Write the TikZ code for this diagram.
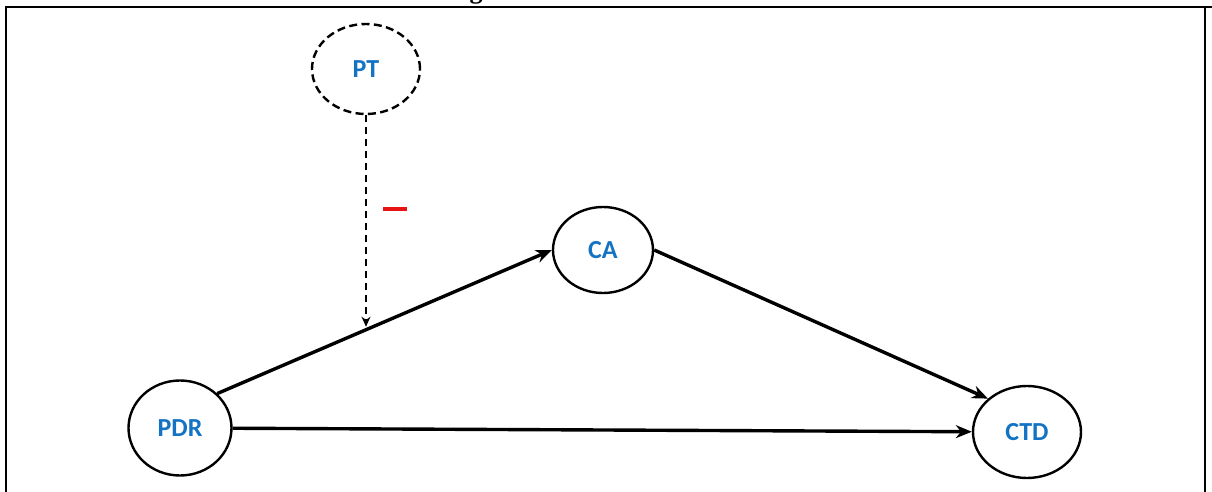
\documentclass[tikz,border=0pt]{standalone}
\usepackage{fontspec}
\setmainfont{Carlito}
\newfontfamily\serifbold{Liberation Serif}
\usetikzlibrary{shapes.geometric,arrows.meta,calc}
\definecolor{lblblue}{RGB}{20,115,195}
\definecolor{minusred}{RGB}{230,20,20}
\tikzset{
  var/.style={ellipse, draw=black, line width=1.2pt, fill=white, inner sep=0pt,
    font=\fontsize{13}{15}\selectfont\bfseries, text=lblblue},
  varlatent/.style={var, dash pattern=on 4pt off 2.2pt},
  pathedge/.style={line width=1.7pt, -{Stealth[length=8pt,width=6.5pt]}},
  modedge/.style={line width=1.1pt, dash pattern=on 3.5pt off 2.5pt, -{Stealth[length=5pt,width=4.5pt]}},
  frame/.style={line width=1.3pt}
}
\begin{document}
\begin{tikzpicture}[x=0.5pt,y=-0.5pt]
\useasboundingbox (0,0) rectangle (1212,492);
% frame
\coordinate (ftl) at (6,7);
\coordinate (ftr) at (1212,7);
\coordinate (fbl) at (6,492);
\coordinate (frt) at (1205,7);
\coordinate (frb) at (1205,492);
\draw[frame] (fbl) -- (ftl) -- (ftr);
\draw[frame] (frt) -- (frb);
\node[anchor=base, inner sep=0pt, font=\serifbold\fontsize{13}{15}\selectfont\bfseries] (title) at (476,-1) {g};
% nodes
\node[varlatent, minimum width=54pt, minimum height=45pt] (PT) at (366,69) {PT};
\node[var, minimum width=50pt, minimum height=43pt] (CA) at (603,250) {CA};
\node[var, minimum width=51.5pt, minimum height=47.5pt] (PDR) at (180,428) {PDR};
\node[var, minimum width=54pt, minimum height=46pt] (CTD) at (1027,432) {CTD};
% edges
\draw[pathedge] (PDR.north east) -- (CA.west);
\draw[pathedge] (PDR) -- (CTD);
\draw[pathedge] (CA.east) -- (CTD.north west);
\coordinate (m) at ($(PDR.north east)!0.445!(CA.west)$);
\draw[modedge, shorten >=1.5pt] (PT.south) -- (PT.south |- m);
\node[inner sep=0pt, text=minusred] (minus) at (395,209) {\rule{12pt}{1.6pt}};
\end{tikzpicture}
\end{document}
